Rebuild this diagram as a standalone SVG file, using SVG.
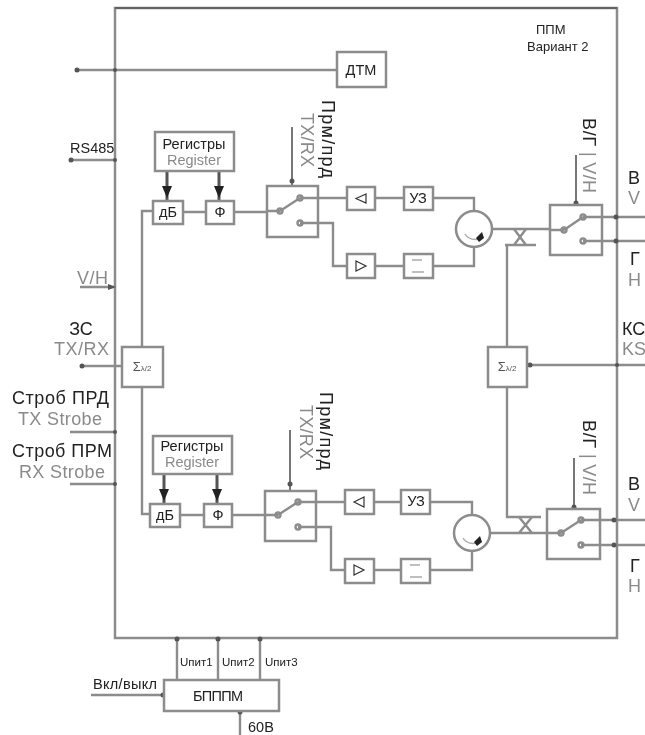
<svg xmlns="http://www.w3.org/2000/svg" width="645" height="735" viewBox="0 0 645 735">
<style>
text{font-family:"Liberation Sans",Arial,sans-serif;fill:#222}
.g{fill:#8a8a8a}
.b{fill:#fff;stroke:#8c8c8c;stroke-width:2.5}
.l{fill:none;stroke:#8c8c8c;stroke-width:2.4}
.t{fill:none;stroke:#777;stroke-width:2}
.d{fill:#555;stroke:none}
.k{fill:none;stroke:#333;stroke-width:1.2}
.f{fill:none;stroke:#aaa;stroke-width:1.3}
.big{font-size:18px}
.mid{font-size:14.500px}
.sm{font-size:11.500px}
.c{text-anchor:middle}
</style>
<defs>
<filter id="s" x="-5%" y="-5%" width="110%" height="110%"><feGaussianBlur stdDeviation="0.45"/></filter>
<filter id="s2" x="-5%" y="-5%" width="110%" height="110%"><feGaussianBlur stdDeviation="0.3"/></filter>
</defs>
<rect width="645" height="735" fill="#fff"/>
<g id="frame"><path d="M115 8H617V638H115Z" fill="#fff" stroke="#8c8c8c" stroke-width="2.5"/><path d="M115 8H617" stroke="#555" stroke-width="1.5"/></g>
<g id="connectors" filter="url(#s)">
<path class="l" d="M77 70H337M70 160H115M80 287H115M82 366H122M70 432H115M70 484H115"/>
<path class="l" d="M142 347V211H153M142 387V514H150"/>
<path class="l" d="M183 212H206M234 212H280M300 198H347M300 223H333V266H347M375 198H404M375 266H404M433 198H474V211M433 266H474V247"/>
<path class="l" d="M492 229H564M583 217H645M583 241H645"/>
<path class="l" d="M507 347V245M505 245H536M514 229L526 245M526 229L514 245"/>
<path class="l" d="M527 365H645M507 387V517H541"/>
<path class="l" d="M180 515H204M232 515H278M298 502H345M298 527H331V570H345M374 502H401M374 570H401M430 502H472V515M430 570H472V551"/>
<path class="l" d="M490 533H560M581 520H645M581 545H645M519 517L532 533M532 517L519 533"/>
<path class="l" d="M177 638V680M218 638V680M260 638V680M91 695H164M240 711V735"/>
<path class="t" d="M292 127V186M576 155V205M290 430V491M574 458V509"/>
<path class="l" d="M167 171V201M219 171V201M164 474V504M217 474V504" style="stroke:#555;stroke-width:3"/>
<path d="M162 186H172L167 198ZM214 186H224L219 198ZM159 489H169L164 501ZM212 489H222L217 501Z" fill="#222"/>
<g class="d"><circle cx="77" cy="70" r="2.500"/><circle cx="115" cy="70" r="2"/><circle cx="71" cy="160" r="2.500"/><circle cx="115" cy="160" r="2"/><path d="M108 284L116 287L108 290Z"/><circle cx="82" cy="366" r="2.500"/><circle cx="115" cy="432" r="2"/><circle cx="115" cy="484" r="2"/><circle cx="292" cy="181" r="2.500"/><circle cx="576" cy="203" r="2.500"/><circle cx="290" cy="484" r="2.500"/><circle cx="574" cy="507" r="2.500"/><circle cx="616" cy="217" r="2.500"/><circle cx="616" cy="241" r="2.500"/><circle cx="614" cy="520" r="2.500"/><circle cx="614" cy="545" r="2.500"/><circle cx="530" cy="365" r="2.500"/><circle cx="617" cy="365" r="2"/><circle cx="177" cy="639" r="2.500"/><circle cx="218" cy="639" r="2.500"/><circle cx="260" cy="639" r="2.500"/><circle cx="163" cy="695" r="2.500"/><circle cx="240" cy="712" r="2.500"/></g>
</g>
<g filter="url(#s)">
<g id="dtm"><rect class="b" x="337" y="52" width="49" height="35"/></g>
<g id="reg1"><rect class="b" x="155" y="132" width="79" height="39"/></g>
<g id="db1"><rect class="b" x="153" y="201" width="30" height="23"/></g>
<g id="ph1"><rect class="b" x="206" y="201" width="28" height="23"/></g>
<g id="sw1"><rect class="b" x="267" y="186" width="51" height="51"/><path class="l" d="M267 211H280M280 211L300 198M300 223H318M300 198H318"/><circle class="l" cx="280" cy="211" r="2.500"/><circle class="l" cx="300" cy="198" r="2.500"/><circle class="l" cx="300" cy="223" r="2.500"/></g>
<g id="tri1"><rect class="b" x="347" y="187" width="28" height="23"/><path class="k" d="M366 194L356 198.500L366 203Z"/></g>
<g id="uz1"><rect class="b" x="404" y="187" width="29" height="23"/></g>
<g id="tri2"><rect class="b" x="347" y="254" width="28" height="24"/><path class="k" d="M356 261L366 266L356 271Z"/></g>
<g id="fl1"><rect class="b" x="404" y="254" width="29" height="24"/><path class="f" d="M412 260H422M412 272H424"/></g>
<g id="cir1"><circle class="b" cx="474" cy="229" r="18"/><path d="M465 234Q469 241 480 239" fill="none" stroke="#aaa" stroke-width="1.500"/><path d="M476 238L482 232L484 238L479 242Z" fill="#222"/></g>
<g id="sw2"><rect class="b" x="550" y="205" width="52" height="50"/><path class="l" d="M550 230H564M564 230L583 217M583 241H602M583 217H602"/><circle class="l" cx="564" cy="230" r="2.500"/><circle class="l" cx="583" cy="217" r="2.500"/><circle class="l" cx="583" cy="241" r="2.500"/></g>
<g id="sum1"><rect class="b" x="122" y="347" width="41" height="40"/></g>
<g id="sum2"><rect class="b" x="488" y="347" width="39" height="40"/></g>
<g id="reg2"><rect class="b" x="153" y="436" width="79" height="38"/></g>
<g id="db2"><rect class="b" x="150" y="504" width="30" height="23"/></g>
<g id="ph2"><rect class="b" x="204" y="504" width="28" height="23"/></g>
<g id="sw3"><rect class="b" x="265" y="491" width="51" height="50"/><path class="l" d="M265 515H278M278 515L298 502M298 527H316M298 502H316"/><circle class="l" cx="278" cy="515" r="2.500"/><circle class="l" cx="298" cy="502" r="2.500"/><circle class="l" cx="298" cy="527" r="2.500"/></g>
<g id="tri3"><rect class="b" x="345" y="490" width="29" height="24"/><path class="k" d="M364 497L354 502L364 507Z"/></g>
<g id="uz2"><rect class="b" x="401" y="490" width="29" height="24"/></g>
<g id="tri4"><rect class="b" x="345" y="559" width="29" height="24"/><path class="k" d="M354 565L364 570L354 575Z"/></g>
<g id="fl2"><rect class="b" x="401" y="559" width="29" height="24"/><path class="f" d="M410 565H420M410 577H422"/></g>
<g id="cir2"><circle class="b" cx="472" cy="533" r="18"/><path d="M463 538Q467 545 478 543" fill="none" stroke="#aaa" stroke-width="1.500"/><path d="M474 542L480 536L482 542L477 546Z" fill="#222"/></g>
<g id="sw4"><rect class="b" x="547" y="509" width="53" height="50"/><path class="l" d="M547 533H561M561 533L581 520M581 545H600M581 520H600"/><circle class="l" cx="561" cy="533" r="2.500"/><circle class="l" cx="581" cy="520" r="2.500"/><circle class="l" cx="581" cy="545" r="2.500"/></g>
<g id="bp"><rect class="b" x="164" y="680" width="115" height="31"/></g>
</g>
<g id="labels" filter="url(#s2)">
<text class="mid" x="536" y="34" style="font-size:13px">ППМ</text>
<text class="mid" x="527" y="51" style="font-size:13px">Вариант 2</text>
<text class="mid c" x="361" y="75">ДТМ</text>
<text class="mid" x="70" y="153">RS485</text>
<text class="big g" x="77" y="284" textLength="31">V/H</text>
<text class="mid c" x="194" y="149">Регистры</text>
<text class="mid c g" x="194" y="165">Register</text>
<text class="mid c" x="168" y="217">дБ</text>
<text class="mid c" x="220" y="217">Ф</text>
<text class="mid c" x="418" y="203">УЗ</text>
<text class="mid c" x="192" y="451">Регистры</text>
<text class="mid c g" x="192" y="467">Register</text>
<text class="mid c" x="165" y="520">дБ</text>
<text class="mid c" x="218" y="520">Ф</text>
<text class="mid c" x="416" y="506">УЗ</text>
<text class="c" x="142" y="371" style="font-size:13px;fill:#555">Σ<tspan style="font-size:8px">λ/2</tspan></text>
<text class="c" x="507" y="371" style="font-size:13px;fill:#555">Σ<tspan style="font-size:8px">λ/2</tspan></text>
<text class="big c" x="81" y="335">ЗС</text>
<text class="big g" x="54" y="355" textLength="55">TX/RX</text>
<text class="big" x="12" y="404" textLength="97">Строб ПРД</text>
<text class="big g" x="18" y="425" textLength="84">TX Strobe</text>
<text class="big" x="12" y="457" textLength="100">Строб ПРМ</text>
<text class="big g" x="19" y="478" textLength="86">RX Strobe</text>
<text class="big" x="628" y="184">В</text>
<text class="big g" x="628" y="204">V</text>
<text class="big" x="630" y="265">Г</text>
<text class="big g" x="628" y="286">Н</text>
<text class="big" x="622" y="335">КС</text>
<text class="big g" x="622" y="355">KS</text>
<text class="big" x="628" y="490">В</text>
<text class="big g" x="628" y="511">V</text>
<text class="big" x="630" y="572">Г</text>
<text class="big g" x="628" y="592">Н</text>
<text class="big" transform="translate(322 100) rotate(90)" textLength="78">Прм/прд</text>
<text class="big g" transform="translate(301 113) rotate(90)" textLength="54">TX/RX</text>
<text class="big" transform="translate(320 392) rotate(90)" textLength="78">Прм/прд</text>
<text class="big g" transform="translate(300 405) rotate(90)" textLength="54">TX/RX</text>
<text class="big" transform="translate(583 118) rotate(90)" textLength="28">В/Г</text>
<text class="big g" transform="translate(583 152) rotate(90)" textLength="41">| V/Н</text>
<text class="big" transform="translate(583 420) rotate(90)" textLength="28">В/Г</text>
<text class="big g" transform="translate(583 454) rotate(90)" textLength="41">| V/Н</text>
<text class="sm" x="180" y="666">Uпит1</text>
<text class="sm" x="222" y="666">Uпит2</text>
<text class="sm" x="265" y="666">Uпит3</text>
<text class="mid" x="93" y="689" textLength="64">Вкл/выкл</text>
<text class="mid c" x="218" y="701" textLength="50">БПППМ</text>
<text class="mid" x="248" y="732">60В</text>
</g>
</svg>
